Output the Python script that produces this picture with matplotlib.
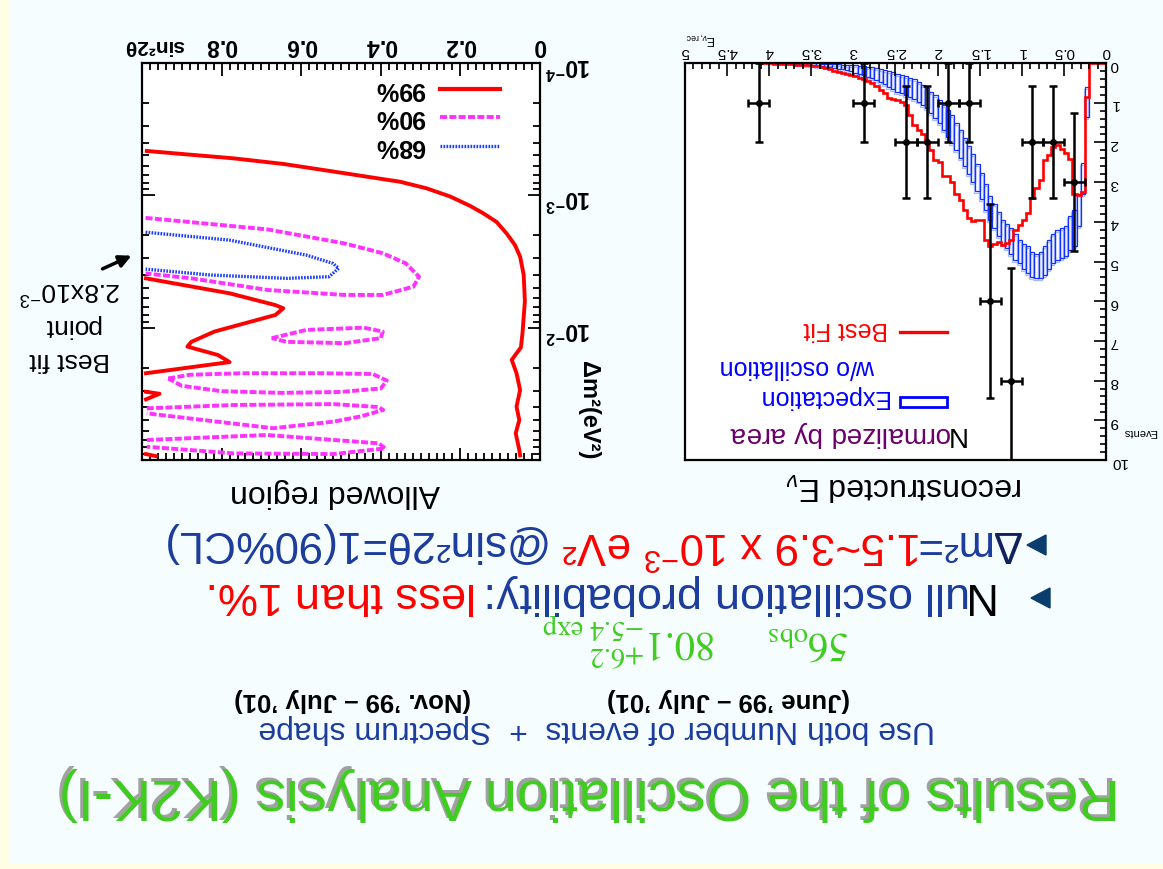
import numpy as np
import matplotlib
matplotlib.use('Agg')
import matplotlib.pyplot as plt
from matplotlib.patches import Polygon, Rectangle
from matplotlib.lines import Line2D
from matplotlib.ticker import NullFormatter, LogLocator

plt.rcParams['font.family'] = ['Liberation Sans', 'DejaVu Sans']
plt.rcParams['mathtext.fontset'] = 'custom'
plt.rcParams['mathtext.rm'] = 'Liberation Sans'
plt.rcParams['mathtext.it'] = 'Liberation Sans:italic'
plt.rcParams['mathtext.bf'] = 'Liberation Sans:bold'

W, H = 1163, 869

# ---------------- spectrum data (0.05 GeV bins starting at 0) ----------------
bin_width = 0.05
best_fit = [0, 0, 0, 0, 0.85, 3.25, 3.32, 3.30, 2.42, 2.27,
            2.17, 2.07, 2.12, 2.32, 2.44, 2.95, 3.16, 3.41, 3.79, 3.95,
            4.08, 4.21, 4.46, 4.53, 4.58, 4.52, 4.55, 4.62, 4.45, 3.95,
            3.95, 3.98, 3.90, 3.70, 3.45, 3.30, 3.00, 2.85, 2.85, 2.50,
            2.45, 2.20, 1.98, 1.78, 1.70, 1.55, 1.30, 1.05, 0.97, 0.92,
            0.90, 0.88, 0.76, 0.67, 0.58, 0.50, 0.45, 0.40, 0.38, 0.32,
            0.30, 0.28, 0.26, 0.23, 0.20, 0.15, 0.13, 0.10, 0.08, 0.07,
            0.06, 0.05, 0.04, 0.04, 0.03, 0.03, 0.02, 0.02, 0.02, 0.01,
            0.01, 0.01, 0.01]
exp_lo = [0, 0, 0, 0, 0.60, 2.52, 3.30, 3.70, 3.85, 4.10,
          4.15, 4.20, 4.30, 4.45, 4.60, 4.75, 4.80, 4.75, 4.60, 4.55,
          4.45, 4.30, 4.15, 4.05, 3.95, 3.75, 3.55, 3.35, 3.05, 2.78,
          2.55, 2.30, 2.08, 1.90, 1.70, 1.50, 1.32, 1.18, 1.06, 0.93,
          0.81, 0.72, 0.64, 0.55, 0.47, 0.41, 0.37, 0.33, 0.30, 0.27,
          0.22, 0.20, 0.17, 0.15, 0.13, 0.11, 0.09, 0.08, 0.07, 0.06,
          0.05, 0.04, 0.04, 0.03, 0.03, 0.02, 0.02, 0.02, 0.01, 0.01,
          0.01, 0.01, 0.00, 0.00]
exp_hi = [0, 0, 0, 0, 1.37, 3.30, 4.10, 4.60, 4.70, 4.85,
          4.90, 4.95, 5.05, 5.20, 5.35, 5.42, 5.42, 5.40, 5.30, 5.20,
          5.05, 4.95, 4.80, 4.65, 4.55, 4.35, 4.15, 3.95, 3.70, 3.42,
          3.22, 3.00, 2.80, 2.60, 2.40, 2.20, 2.02, 1.86, 1.69, 1.52,
          1.39, 1.27, 1.14, 1.06, 0.97, 0.90, 0.85, 0.80, 0.76, 0.72,
          0.66, 0.60, 0.54, 0.49, 0.44, 0.39, 0.35, 0.31, 0.27, 0.24,
          0.21, 0.18, 0.16, 0.14, 0.12, 0.10, 0.09, 0.08, 0.07, 0.06,
          0.05, 0.04, 0.03, 0.03]

obs_e = [0.375, 0.625, 0.875, 1.125, 1.375, 1.625, 1.875, 2.125, 2.375, 2.875, 4.125]
obs_n = [3, 2, 2, 8, 6, 1, 1, 2, 2, 1, 1]
obs_err = [1.73, 1.41, 1.41, 2.83, 2.45, 1, 1, 1.41, 1.41, 1, 1]

e_ticks = [0, 0.5, 1, 1.5, 2, 2.5, 3, 3.5, 4, 4.5, 5]
e_labels = ['0', '0.5', '1', '1.5', '2', '2.5', '3', '3.5', '4', '4.5', '5']

# ---------------- allowed region contours (sin^2 2theta, dm^2) ----------------
s99_a = [0.988, 0.896, 0.771, 0.645, 0.519, 0.435, 0.352, 0.285, 0.226, 0.176,
         0.142, 0.109, 0.084, 0.063, 0.050, 0.041, 0.038, 0.044, 0.048, 0.071,
         0.059, 0.050, 0.059, 0.052, 0.061, 0.052, 0.050]
dm99_a = [4.62e-4, 4.88e-4, 5.25e-4, 5.79e-4, 6.61e-4, 7.23e-4, 7.89e-4, 8.85e-4, 1.02e-3, 1.20e-3,
          1.37e-3, 1.59e-3, 1.94e-3, 2.37e-3, 2.91e-3, 3.98e-3, 6.31e-3, 1.10e-2, 1.41e-2, 1.75e-2,
          2.21e-2, 2.96e-2, 3.95e-2, 4.99e-2, 6.28e-2, 8.40e-2, 9.23e-2]
s99_b = [0.99, 0.78, 0.665, 0.645, 0.665, 0.818, 0.876, 0.886, 0.809, 0.78, 0.99]
dm99_b = [4.24e-3, 5.50e-3, 6.75e-3, 7.14e-3, 8.02e-3, 1.07e-2, 1.28e-2, 1.39e-2, 1.61e-2, 1.82e-2, 2.21e-2]
s99_c = [0.99, 0.956, 0.99]
dm99_c = [3.05e-2, 3.16e-2, 3.48e-2]
s99_d = [0.99, 0.965]
dm99_d = [9.02e-2, 9.35e-2]

s90_a = [0.991, 0.684, 0.491, 0.395, 0.337, 0.304, 0.318, 0.395, 0.491, 0.684, 0.876, 0.991]
dm90_a = [1.48e-3, 1.81e-3, 2.31e-3, 2.74e-3, 3.27e-3, 4.12e-3, 4.90e-3, 5.66e-3, 5.66e-3, 5.19e-3, 4.24e-3, 3.89e-3]
s90_b = [0.674, 0.587, 0.443, 0.395, 0.40, 0.491, 0.636, 0.674]
dm90_b = [1.20e-2, 1.04e-2, 1.00e-2, 1.07e-2, 1.20e-2, 1.31e-2, 1.28e-2, 1.20e-2]
s90_c = [0.934, 0.88, 0.75, 0.55, 0.42, 0.385, 0.40, 0.50, 0.65, 0.80, 0.90, 0.934]
dm90_c = [2.42e-2, 2.27e-2, 2.21e-2, 2.21e-2, 2.24e-2, 2.51e-2, 2.88e-2, 3.06e-2, 3.11e-2, 3.02e-2, 2.75e-2, 2.42e-2]
s90_d = [0.988, 0.77, 0.519, 0.405, 0.394, 0.45, 0.519, 0.67, 0.812, 0.988]
dm90_d = [4.07e-2, 3.84e-2, 3.78e-2, 3.98e-2, 4.19e-2, 4.68e-2, 5.13e-2, 5.75e-2, 5.13e-2, 4.44e-2]
s90_e = [0.988, 0.687, 0.405, 0.389, 0.519, 0.77, 0.988]
dm90_e = [7.06e-2, 6.47e-2, 7.48e-2, 8.17e-2, 9.02e-2, 8.91e-2, 7.94e-2]

s68 = [0.991, 0.78, 0.587, 0.52, 0.506, 0.53, 0.636, 0.828, 0.991]
dm68 = [1.90e-3, 2.18e-3, 2.83e-3, 3.27e-3, 3.56e-3, 4.12e-3, 4.24e-3, 4.00e-3, 3.61e-3]

best_s, best_dm = 1.0, 2.8e-3

sin_ticks = [0, 0.2, 0.4, 0.6, 0.8]
sin_labels = ['0', '0.2', '0.4', '0.6', '0.8']
dm_ticks = [1e-4, 1e-3, 1e-2]
dm_labels = [r'$\mathbf{10^{-4}}$', r'$\mathbf{10^{-3}}$', r'$\mathbf{10^{-2}}$']

RED = '#ff0000'
MAG = '#ff33ff'
BLU = '#1a3cff'
GREEN = '#3fcc1f'
NAVY = '#1b3c9c'

fig = plt.figure(figsize=(W / 100, H / 100), dpi=100)
fig.set_facecolor('#fffee4')
fig.add_artist(Rectangle((9 / W, 1 - 862 / H), (W - 9) / W, 862 / H, transform=fig.transFigure,
                         color='#f6fdff', zorder=-1))


def fx(x):
    return x / W


def fy(y):
    return 1 - y / H


def rtext(x, y, s, size, color='black', weight='normal', **kw):
    # upside-down text, anchored at the start of its baseline
    return fig.text(fx(x), fy(y), s, fontsize=size, color=color, fontweight=weight,
                    rotation=180, rotation_mode='anchor', ha='left', va='baseline', **kw)


def rseq(x, y, parts, size, weight='normal'):
    # multi-coloured line, pieces placed one after the other (right to left).
    # each piece goes through mathtext (trailing thin space) so widths add up
    r = fig.canvas.get_renderer()
    tmp = fig.text(0, 0, r'$\,$', fontsize=size, fontweight=weight)
    thin = tmp.get_window_extent(r).width
    tmp.remove()
    for s, c in parts:
        t = rtext(x, y, s + r'$\,$', size, c, weight)
        x -= t.get_window_extent(r).width - thin


def ctext(x, y, s, size, color='black', weight='normal', rot=180, **kw):
    return fig.text(fx(x), fy(y), s, fontsize=size, color=color, fontweight=weight,
                    rotation=rot, ha='center', va='center', **kw)


# ---------------- spectrum panel ----------------
ax2 = fig.add_axes([fx(685), fy(460), 421 / W, 397 / H])
ax2.set_facecolor('white')
edges = np.linspace(0, bin_width * len(best_fit), len(best_fit) + 1)
lo = np.array(exp_lo)
hi = np.array(exp_hi)
xe = edges[:len(lo)]
keep = hi > 0
ax2.bar(xe[keep] + 0.012, (hi - lo)[keep], bottom=lo[keep] + 0.05, width=bin_width, align='edge',
        fill=False, edgecolor='#aabbff', lw=0.9)
ax2.bar(xe[keep], (hi - lo)[keep], bottom=lo[keep], width=bin_width, align='edge',
        fill=False, edgecolor='#1030ff', lw=0.9)
ax2.stairs(best_fit, edges, baseline=None, color=RED, lw=1.9)
ax2.errorbar(obs_e, obs_n, xerr=0.125, yerr=obs_err, fmt='o', color='black', ms=4,
             lw=1.8, capsize=3, capthick=1.8)
ax2.set_xlim(5, 0)
ax2.set_ylim(10, 0)
ax2.set_xticks(e_ticks, labels=e_labels)
ax2.set_xticks(np.arange(0, 5.01, 0.1), minor=True)
ax2.set_yticks(range(11))
ax2.set_yticks(np.arange(0, 10.01, 0.2), minor=True)
ax2.tick_params(which='both', direction='in', top=True, bottom=False, left=False, right=True,
                labeltop=True, labelbottom=False, labelleft=False, labelright=True,
                labelsize=11, labelrotation=180, width=1.2, pad=3)
ax2.tick_params(which='major', length=9)
ax2.tick_params(which='minor', length=4.5)
for sp in ax2.spines.values():
    sp.set_linewidth(1.6)

# legend of spectrum panel
rseq(970, 427, [('N', 'black'), ('ormalized by area', '#6a006a')], 20)
fig.add_artist(Rectangle((fx(900), fy(407)), 47 / W, 10 / H, transform=fig.transFigure,
                         fill=False, ec='#0000ff', lw=2))
rtext(888, 390, 'Expectation', 18, '#0000ff')
rtext(875, 360, 'w/o oscillation', 18, '#0000ff')
fig.add_artist(Line2D([fx(900), fx(947)], [fy(332), fy(332)], transform=fig.transFigure,
                      color=RED, lw=2.4))
rtext(888, 322, 'Best Fit', 18, RED)
rtext(1023, 477, r'reconstructed E$_\nu$', 23)
rtext(716, 35, r'E$_{\nu,\mathregular{rec}}$', 9)
ctext(1140, 432, 'Events', 8)

# ---------------- allowed region panel ----------------
ax1 = fig.add_axes([fx(142), fy(460), 398 / W, 397 / H])
ax1.set_facecolor('white')
ax1.set_yscale('log')
ax1.plot(s99_a, dm99_a, color=RED, lw=2.8)
ax1.plot(s99_b, dm99_b, color=RED, lw=2.8)
ax1.plot(s99_c, dm99_c, color=RED, lw=2.8)
ax1.plot(s99_d, dm99_d, color=RED, lw=2.8)
for s, d in [(s90_a, dm90_a), (s90_b, dm90_b), (s90_c, dm90_c), (s90_d, dm90_d), (s90_e, dm90_e)]:
    ax1.plot(s, d, color=MAG, lw=2.8, ls=(0, (1.8, 0.6)))
ax1.plot(s68, dm68, color=BLU, lw=2.4, ls=(0, (0.5, 0.4)))
ax1.set_xlim(1, 0)
ax1.set_ylim(1e-1, 1e-4)
ax1.set_xticks(sin_ticks, labels=sin_labels, fontweight='bold')
ax1.set_xticks(np.arange(0, 1.001, 0.02), minor=True)
ax1.set_yticks(dm_ticks, labels=dm_labels)
ax1.yaxis.set_minor_locator(LogLocator(subs=range(2, 10)))
ax1.yaxis.set_minor_formatter(NullFormatter())
ax1.tick_params(which='both', direction='in', top=True, bottom=True, left=True, right=True,
                labeltop=True, labelbottom=False, labelleft=False, labelright=True,
                labelsize=16.5, labelrotation=180, width=1.3, pad=4)
ax1.tick_params(which='major', length=9)
ax1.tick_params(which='minor', length=5)
for sp in ax1.spines.values():
    sp.set_linewidth(1.6)

# legend of contour panel
for yy, c, ls, lw, lab in [(89, RED, '-', 3.0, '99%'), (117, MAG, (0, (1.8, 0.6)), 2.8, '90%'),
                           (146, BLU, (0, (0.5, 0.4)), 2.4, '68%')]:
    fig.add_artist(Line2D([fx(440), fx(500)], [fy(yy), fy(yy)], transform=fig.transFigure,
                          color=c, lw=lw, ls=ls))
    fig.text(fx(425), fy(yy), lab, fontsize=18, fontweight='bold', rotation=180,
             ha='right', va='center')

ctext(154, 46, 'sin²2θ', 15, weight='bold')
ctext(588, 410, 'Δm²(eV²)', 17, weight='bold', rot=270)
ctext(335, 493, 'Allowed region', 23)
ctext(70, 360, 'Best fit', 19)
ctext(72, 326, 'point', 19)
ctext(70, 290, r'2.8x10$^{\mathregular{-3}}$', 19)
ax1.annotate('', xy=(1.02, best_dm), xytext=(fx(100), fy(270)), textcoords='figure fraction',
             annotation_clip=False,
             arrowprops=dict(arrowstyle='-|>', color='black', lw=2.5, mutation_scale=18))

# ---------------- slide text ----------------
rtext(1117, 776, 'Results of the Oscillation Analysis (K2K-I)', 41.5, '#a0a0a0')
rtext(1120, 779, 'Results of the Oscillation Analysis (K2K-I)', 41.5, GREEN)
rtext(935, 721, 'Use both Number of events  +  Spectrum shape', 23, NAVY)
rtext(850, 693, '(June ’99 – July ’01)', 18.5, weight='bold')
rtext(471, 693, '(Nov. ’99 – July ’01)', 18.5, weight='bold')
rtext(849, 631, r'$56_{\rm obs}$', 29, GREEN, math_fontfamily='stix')
rtext(716, 631, r'$80.1^{+6.2}_{-5.4\ \rm exp}$', 29, GREEN, math_fontfamily='stix')

rseq(1000, 583, [('N', 'black'), ('ull oscillation probability:', NAVY),
                 (' less than 1%.', RED)], 32.5)
rseq(1024, 531, [('Δ', '#10205a'), ('m²=', NAVY),
                 (r'1.5~3.9 x 10$^{\mathregular{-3}}$ eV²', RED),
                 (' @sin²2θ=1(90%CL)', NAVY)], 31.5)
for yc, xl in [(598, 1031), (545, 1027)]:
    fig.add_artist(Polygon([[fx(xl), fy(yc)], [fx(xl + 19), fy(yc - 10)], [fx(xl + 19), fy(yc + 10)]],
                           closed=True, transform=fig.transFigure, color='#0b3c6e'))

fig.savefig('out.png', dpi=100, facecolor=fig.get_facecolor())
